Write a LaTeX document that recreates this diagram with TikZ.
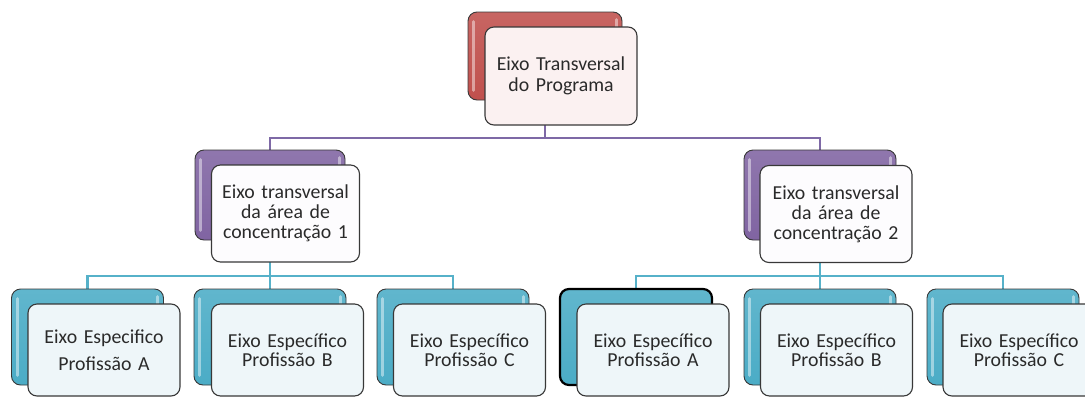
\documentclass[tikz,border=0pt]{standalone}
\usepackage{fontspec}
\setmainfont{Carlito}
\usetikzlibrary{backgrounds}
\definecolor{ored}{HTML}{C0504D}
\definecolor{opurple}{HTML}{8064A2}
\definecolor{oblue}{HTML}{4BACC6}
\definecolor{edgegray}{HTML}{383838}
\definecolor{txtgray}{HTML}{2A2A2A}
\definecolor{pinkfill}{HTML}{FBF1F1}
\definecolor{lilacfill}{HTML}{FDFCFE}
\definecolor{bluefill}{HTML}{EEF6F9}
\definecolor{plinkcol}{HTML}{7E69A6}
\definecolor{blinkcol}{HTML}{56B1C9}
\tikzset{
  backbox/.style={rectangle, rounded corners=9pt, draw=edgegray, line width=0.9pt,
    top color=#1!88!white, bottom color=#1, inner sep=0pt},
  frontbox/.style={rectangle, rounded corners=9pt, draw=edgegray, line width=1.1pt,
    fill=#1, inner sep=0pt, align=center, text=txtgray},
  lvlone/.style={minimum width=154pt, minimum height=88pt},
  lvltwo/.style={minimum width=150pt, minimum height=90pt},
  lvlthree/.style={minimum width=152pt, minimum height=96pt},
  flvlone/.style={minimum width=152pt, minimum height=98pt, text width=150pt,
    font=\fontsize{19.8}{21}\selectfont},
  flvltwo/.style={minimum width=148pt, minimum height=97pt, text width=146pt,
    font=\fontsize{19.8}{20}\selectfont},
  flvlthree/.style={minimum width=152pt, minimum height=92pt, text width=150pt,
    font=\fontsize{19.8}{19.5}\selectfont},
  plink/.style={draw=plinkcol, line width=2.8pt},
  blink/.style={draw=blinkcol, line width=2.8pt},
  shine/.style={white, opacity=0.45, line width=3pt, line cap=round},
}
\begin{document}
\begin{tikzpicture}[x=1pt, y=-1pt]
\useasboundingbox (0,0) rectangle (1085,397);
\clip (0,0) rectangle (1085,397);

% back boxes
\node[backbox=ored, lvlone] (topB) at (545,56) {};
\node[backbox=opurple, lvltwo] (twoLB) at (270,195) {};
\node[backbox=opurple, lvltwo, minimum width=152pt] (twoRB) at (820,195) {};
\node[backbox=oblue, lvlthree] (aLB) at (87.5,337) {};
\node[backbox=oblue, lvlthree] (bLB) at (270,337) {};
\node[backbox=oblue, lvlthree] (cLB) at (453,337) {};
\node[backbox=oblue, lvlthree, draw=black, line width=2.2pt] (aRB) at (636,337) {};
\node[backbox=oblue, lvlthree] (bRB) at (820,337) {};
\node[backbox=oblue, lvlthree] (cRB) at (1003,337) {};

% highlights on back boxes
\foreach \b in {topB,twoLB,twoRB,aLB,bLB,cLB,bRB,cRB}{
  \draw[shine] ([xshift=6pt,yshift=-10pt]\b.north west) -- ([xshift=6pt,yshift=10pt]\b.south west);
  \draw[shine] ([xshift=-6pt,yshift=-8pt]\b.north east) -- ([xshift=-6pt,yshift=-18pt]\b.north east);
}

% front boxes
\node[frontbox=pinkfill, flvlone] (topF) at (561,76) {Eixo Transversal\\do Programa};
\node[frontbox=lilacfill, flvltwo] (twoLF) at (285.5,213.5) {Eixo transversal\\da área de\\concentração 1};
\node[frontbox=lilacfill, flvltwo, minimum width=152pt] (twoRF) at (836,214) {Eixo transversal\\da área de\\concentração 2};
\node[frontbox=bluefill, flvlthree, font=\fontsize{19.8}{27}\selectfont] (aLF) at (104,350) {Eixo Especifico\\Profissão A};
\node[frontbox=bluefill, flvlthree] (bLF) at (287.5,350) {Eixo Específico\\Profissão B};
\node[frontbox=bluefill, flvlthree] (cLF) at (469.5,350) {Eixo Específico\\Profissão C};
\node[frontbox=bluefill, flvlthree] (aRF) at (653,350) {Eixo Específico\\Profissão A};
\node[frontbox=bluefill, flvlthree] (bRF) at (836.5,350) {Eixo Específico\\Profissão B};
\node[frontbox=bluefill, flvlthree] (cRF) at (1019,350) {Eixo Específico\\Profissão C};

% connectors
\coordinate (jone) at (545,138);
\coordinate (jtwoL) at (270,276);
\coordinate (jtwoR) at (820,276);
\begin{pgfonlayer}{background}
\draw[plink] (topB.south) -- (jone);
\draw[plink] (jone) -| (twoLB.north);
\draw[plink] (jone) -| (twoRB.north);
\draw[blink] (twoLB.south) -- (jtwoL);
\draw[blink] (jtwoL) -| (aLB.north);
\draw[blink] (jtwoL) -- (bLB.north);
\draw[blink] (jtwoL) -| (cLB.north);
\draw[blink] (twoRB.south) -- (jtwoR);
\draw[blink] (jtwoR) -| (aRB.north);
\draw[blink] (jtwoR) -- (bRB.north);
\draw[blink] (jtwoR) -| (cRB.north);
\end{pgfonlayer}
\end{tikzpicture}
\end{document}
